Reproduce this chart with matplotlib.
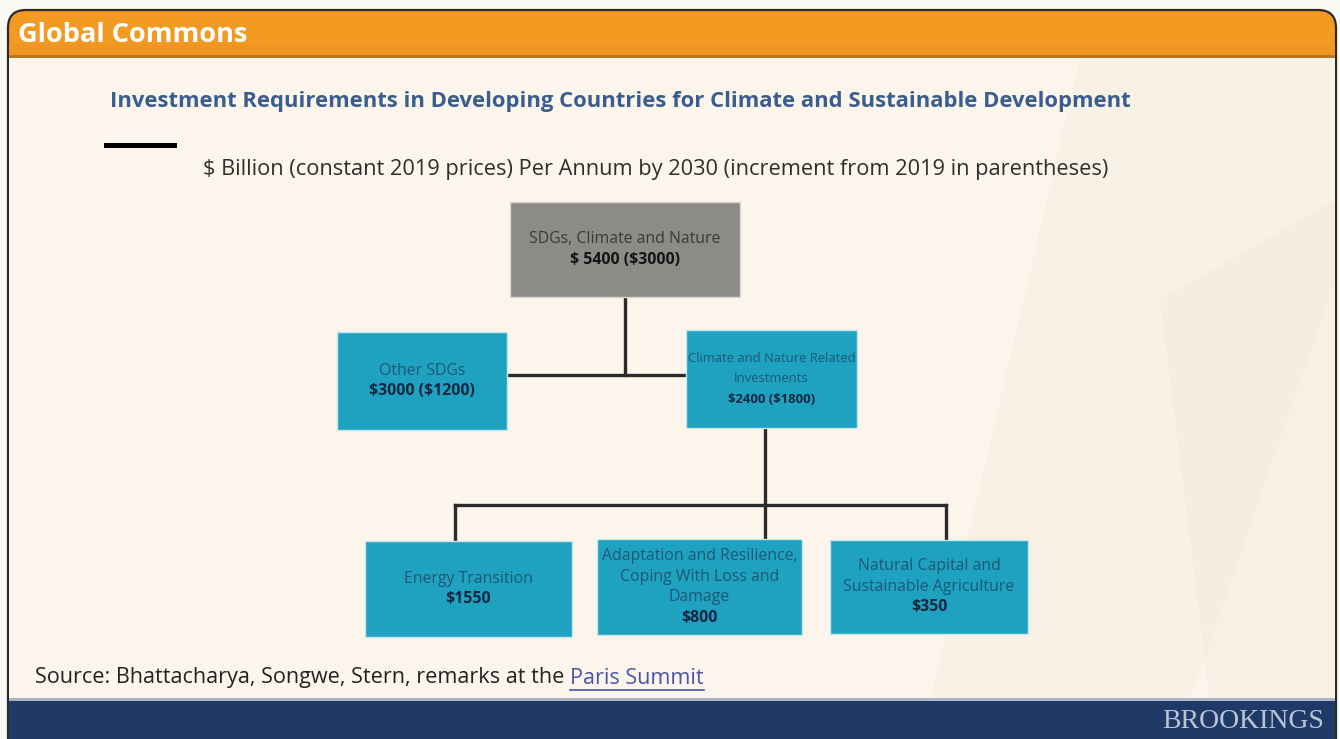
import matplotlib
matplotlib.use("Agg")
import matplotlib.pyplot as plt
from matplotlib.patches import Rectangle, FancyBboxPatch, Polygon

# ---- data -------------------------------------------------------------
top_name = "SDGs, Climate and Nature"
top_total = 5400
top_increment = 3000

mid_names = ["Other SDGs", "Climate and Nature Related\nInvestments"]
mid_totals = [3000, 2400]
mid_increments = [1200, 1800]

leaf_names = ["Energy Transition",
              "Adaptation and Resilience,\nCoping With Loss and\nDamage",
              "Natural Capital and\nSustainable Agriculture"]
leaf_totals = [1550, 800, 350]

title = "Investment Requirements in Developing Countries for Climate and Sustainable Development"
subtitle = "$ Billion (constant 2019 prices) Per Annum by 2030 (increment from 2019 in parentheses)"
header = "Global Commons"
source_text = "Source: Bhattacharya, Songwe, Stern, remarks at the "
source_link = "Paris Summit"
brand = "BROOKINGS"

# ---- styling ----------------------------------------------------------
W, H = 1340, 739
FONT = "Open Sans"
ORANGE = "#f39a22"
CREAM = "#fbf5ec"
NAVY = "#1f3a66"
TEAL = "#1fa2bf"
GREY_BOX = "#8d8b88"
LINE = "#2b2b2b"

fig = plt.figure(figsize=(W / 100, H / 100), dpi=100)
fig.patch.set_facecolor("#fbf9f4")
ax = fig.add_axes([0, 0, 1, 1])
ax.set_xlim(0, W)
ax.set_ylim(H, 0)
ax.axis("off")


def txt(x, y, s, **kw):
    kw.setdefault("family", FONT)
    kw.setdefault("zorder", 5)
    return ax.text(x, y, s, parse_math=False, **kw)


# slide frame: orange header, cream body, navy footer
frame = FancyBboxPatch((8, 10), 1328, 780, boxstyle="round,pad=0,rounding_size=18",
                       facecolor=ORANGE, edgecolor="#2a2a2a", linewidth=1.6, zorder=1)
ax.add_patch(frame)
ax.add_patch(Rectangle((9, 44), 1326, 12, facecolor="#ef9520", edgecolor="none", zorder=1.1))
ax.add_patch(Rectangle((9, 55), 1326, 2.5, facecolor="#b9741e", edgecolor="none", zorder=1.2))
ax.add_patch(Rectangle((9, 57.5), 1326, 643, facecolor=CREAM, edgecolor="none", zorder=1.2))
ax.add_patch(Rectangle((9, 700), 1326, 60, facecolor=NAVY, edgecolor="none", zorder=1.2))
ax.add_patch(Rectangle((9, 698), 1326, 2.5, facecolor="#a9b6c8", edgecolor="none", zorder=1.3))

# faint decorative bands on the right of the body
for pts, a in [([(1080, 58), (1335, 58), (1335, 280), (1190, 700), (930, 700)], 0.30),
               ([(1160, 300), (1335, 200), (1335, 700), (1210, 700)], 0.40)]:
    ax.add_patch(Polygon(pts, closed=True, facecolor="#f4e9db", edgecolor="none",
                         alpha=a, zorder=1.25))

# header and titles
txt(18, 35, header, fontsize=19.5, fontweight="bold", color="white", va="center", ha="left")
txt(110, 101, title, fontsize=15.8, fontweight="bold", color="#3b5d8d", va="center", ha="left")
ax.add_patch(Rectangle((104, 142.5), 73, 5.5, facecolor="black", edgecolor="none", zorder=5))
txt(203, 170, subtitle, fontsize=15.7, color="#2e2e2e", va="center", ha="left")


def fmt(v):
    return f"${v}"


fig.canvas.draw()
renderer = fig.canvas.get_renderer()


def text_width(t):
    bb = t.get_window_extent(renderer=renderer)
    return bb.width


def draw_box(x0, y0, x1, y1, color, name, value_line, name_color, value_color,
             size=11.4, step=20.5):
    ax.add_patch(Rectangle((x0, y0), x1 - x0, y1 - y0, facecolor=color,
                           edgecolor="#c9e6ee" if color == TEAL else "#d8d6d2",
                           linewidth=1.0, zorder=3))
    cx = (x0 + x1) / 2
    lines = name.split("\n")
    n = len(lines) + 1
    y_first = (y0 + y1) / 2 - (n - 1) * step / 2
    objs = []
    for i, ln in enumerate(lines):
        objs.append(txt(cx, y_first + i * step, ln, fontsize=size, color=name_color,
                        ha="center", va="center", zorder=4))
    objs.append(txt(cx, y_first + len(lines) * step, value_line, fontsize=size,
                    fontweight="bold", color=value_color, ha="center", va="center",
                    zorder=4))
    # shrink the lettering if a line runs past the box edges
    widest = max(text_width(o) for o in objs)
    avail = (x1 - x0) - 4
    if widest > avail:
        for o in objs:
            o.set_fontsize(size * avail / widest)


# connectors
lw = 2.4
ax.plot([625, 625], [297, 375], color=LINE, lw=lw, zorder=2)
ax.plot([507, 686], [375, 375], color=LINE, lw=lw, zorder=2)
ax.plot([765, 765], [428, 505], color=LINE, lw=lw, zorder=2)
ax.plot([455, 946], [505, 505], color=LINE, lw=lw, zorder=2)
for x in (455, 765, 946):
    ax.plot([x, x], [505, 541], color=LINE, lw=lw, zorder=2)

NAME_C = "#1c5877"
VAL_C = "#0c2740"

# top node
draw_box(510, 202, 740, 297, GREY_BOX, top_name,
         f"$ {top_total} ({fmt(top_increment)})", "#3a3a3a", "#141414")

# middle nodes
mid_boxes = [(337, 332, 507, 430), (686, 330, 857, 428)]
for (x0, y0, x1, y1), nm, t, inc in zip(mid_boxes, mid_names, mid_totals, mid_increments):
    draw_box(x0, y0, x1, y1, TEAL, nm, f"{fmt(t)} ({fmt(inc)})", NAME_C, VAL_C)

# leaf nodes
leaf_boxes = [(365, 541, 572, 637), (597, 539, 802, 635), (830, 540, 1028, 634)]
for (x0, y0, x1, y1), nm, t in zip(leaf_boxes, leaf_names, leaf_totals):
    draw_box(x0, y0, x1, y1, TEAL, nm, fmt(t), NAME_C, VAL_C)

# source line with underlined link
src = txt(35, 678, source_text, fontsize=15.6, color="#222222", va="center", ha="left")
fig.canvas.draw()
inv = ax.transData.inverted()
bb = src.get_window_extent(renderer=renderer)
x_end = inv.transform((bb.x1, bb.y0))[0]
link = txt(x_end, 678, source_link, fontsize=15.6, color="#4a55a8", va="center", ha="left")
fig.canvas.draw()
lb = link.get_window_extent(renderer=renderer)
lx0 = inv.transform((lb.x0, lb.y0))[0]
lx1 = inv.transform((lb.x1, lb.y0))[0]
ax.plot([lx0, lx1], [690, 690], color="#4a55a8", lw=1.2, zorder=5)

# brand mark
txt(1324, 722, brand, fontsize=20, color="#b9c5d7", family="Liberation Serif",
    va="center", ha="right")

fig.savefig("out.png", dpi=100, facecolor=fig.get_facecolor())
